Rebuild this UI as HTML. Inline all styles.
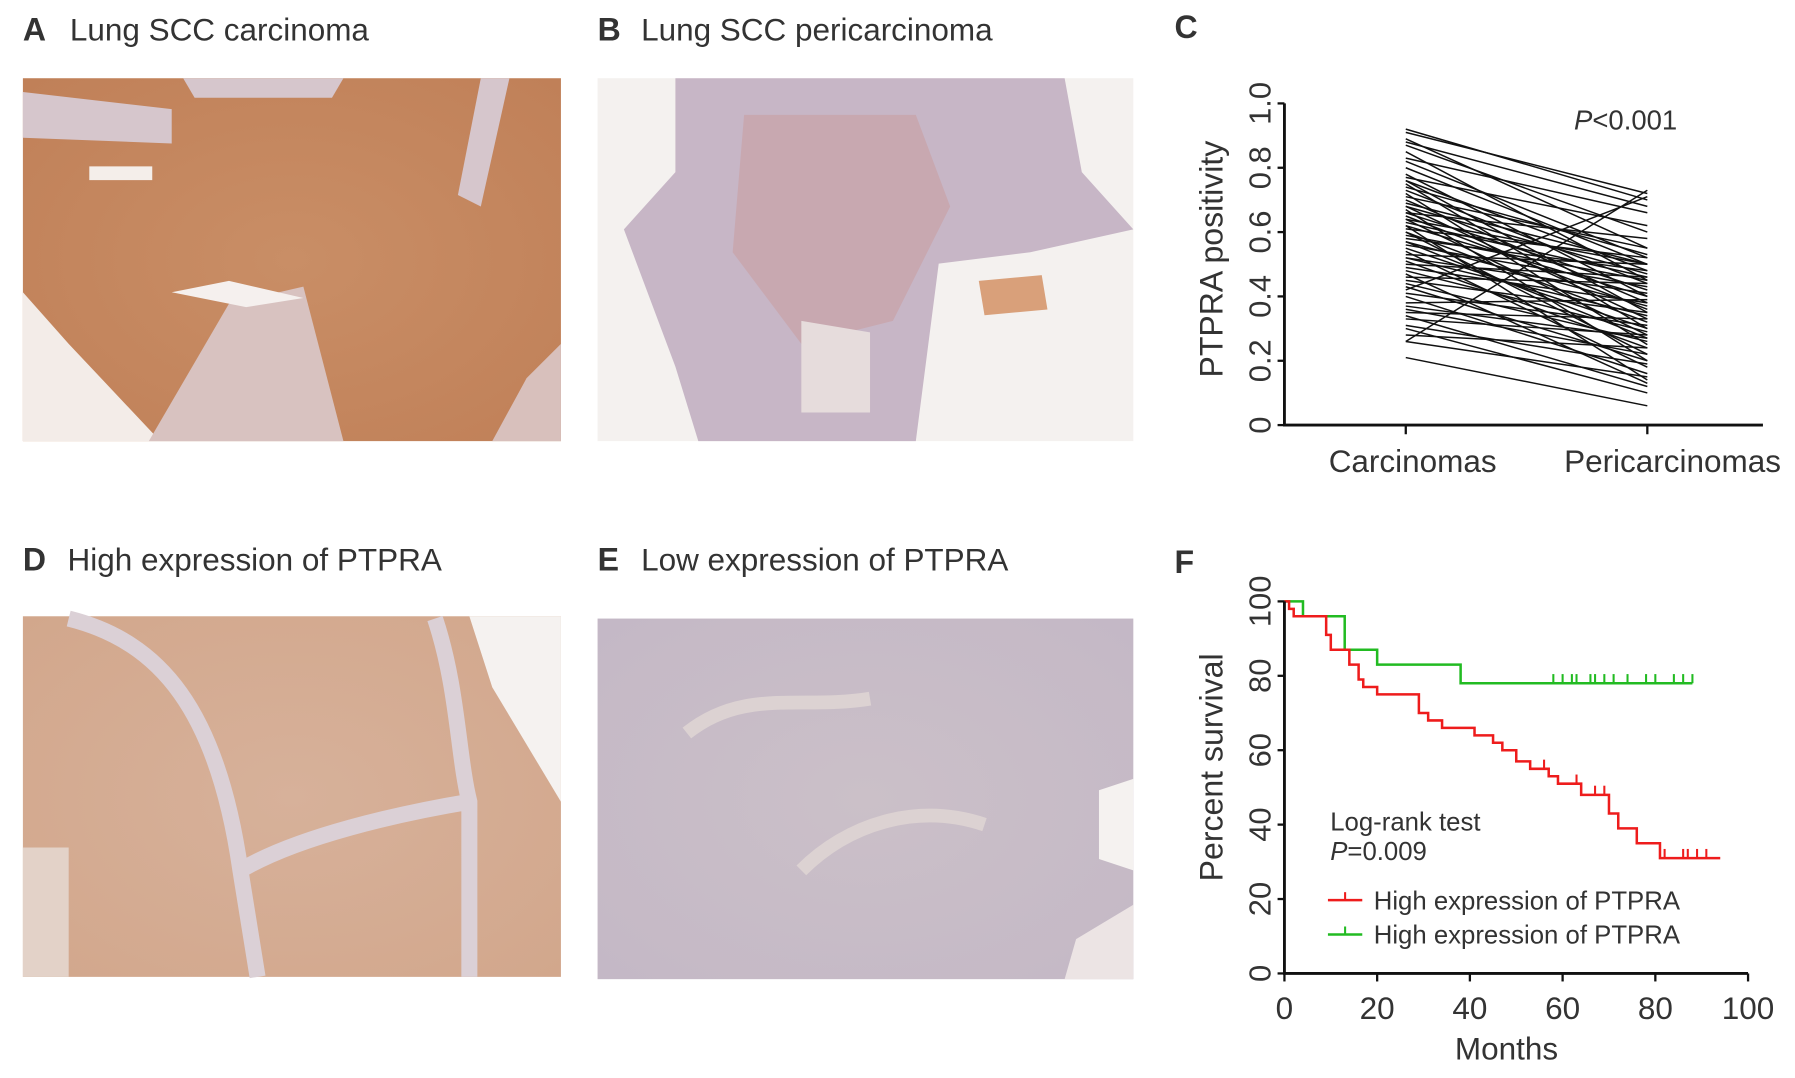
<!DOCTYPE html>
<html><head><meta charset="utf-8"><style>
html,body{margin:0;padding:0;background:#fff;}
svg{display:block;font-family:"Liberation Sans",Arial,sans-serif;}
</style></head><body>
<svg id="fig" width="1795" height="1078" viewBox="0 0 1568 941" xmlns="http://www.w3.org/2000/svg">
<defs>
<radialGradient id="gA" cx="50%" cy="50%" r="70%"><stop offset="0" stop-color="#c98e66"/><stop offset="1" stop-color="#c08058"/></radialGradient>
<radialGradient id="gD" cx="50%" cy="50%" r="70%"><stop offset="0" stop-color="#d7b19a"/><stop offset="1" stop-color="#d2a78c"/></radialGradient>
<radialGradient id="gE" cx="50%" cy="50%" r="70%"><stop offset="0" stop-color="#cbc0c8"/><stop offset="1" stop-color="#c4b8c6"/></radialGradient>
</defs>

<g><text x="20" y="35" font-size="28" font-weight="bold" fill="#333">A</text><text x="61" y="35" font-size="27.5" fill="#333">Lung SCC carcinoma</text></g>
<g><text x="522" y="35" font-size="28" font-weight="bold" fill="#333">B</text><text x="560" y="35" font-size="27.5" fill="#333">Lung SCC pericarcinoma</text></g>
<text x="1026" y="33" font-size="28" font-weight="bold" fill="#333">C</text>
<g><text x="20" y="498" font-size="28" font-weight="bold" fill="#333">D</text><text x="59" y="498" font-size="27.5" fill="#333">High expression of PTPRA</text></g>
<g><text x="522" y="498" font-size="28" font-weight="bold" fill="#333">E</text><text x="560" y="498" font-size="27.5" fill="#333">Low expression of PTPRA</text></g>
<text x="1026" y="500" font-size="28" font-weight="bold" fill="#333">F</text>

<g>
<rect x="20" y="68" width="470" height="317" fill="url(#gA)"/>
<polygon points="20,255 20,385 140,385 60,300" fill="#f3ece8"/>
<polygon points="130,385 200,265 265,250 300,385" fill="#d8c2c0"/>
<polygon points="150,255 200,245 265,260 215,268" fill="#f5f0ee"/>
<polygon points="20,80 150,95 150,125 20,120" fill="#d6c6cc"/>
<polygon points="160,68 300,68 290,85 170,85" fill="#d6c6cc"/>
<polygon points="420,68 445,68 420,180 400,170" fill="#d6c6cc"/>
<polygon points="460,330 490,300 490,385 430,385" fill="#d8c0bc"/>
<rect x="78" y="145" width="55" height="12" fill="#f4eeea"/>
</g>
<g>
<rect x="522" y="68" width="468" height="317" fill="#f4f1ef"/>
<polygon points="590,68 930,68 945,150 990,200 900,220 820,230 800,385 610,385 590,320 545,200 590,150" fill="#c7b6c6"/>
<polygon points="650,100 800,100 830,180 780,280 700,300 640,220" fill="#c8a8b0"/>
<polygon points="700,280 760,290 760,360 700,360" fill="#e6dcdc"/>
<polygon points="855,245 910,240 915,270 860,275" fill="#d9a07a"/>
</g>
<g>
<rect x="20" y="538" width="470" height="315" fill="url(#gD)"/>
<polygon points="410,538 490,538 490,700 430,600" fill="#f5f2f0"/>
<path d="M60,540 C140,560 190,620 210,760 L225,853 M210,760 C260,730 350,710 410,700 M380,540 C400,600 400,660 410,700 L410,853" stroke="#dbd0d6" stroke-width="14" fill="none"/>
<rect x="20" y="740" width="40" height="113" fill="#e3d2c8"/>
</g>
<g>
<rect x="522" y="540" width="468" height="315" fill="url(#gE)"/>
<path d="M600,640 C650,600 700,620 760,610 M700,760 C740,720 800,700 860,720" stroke="#dcd2d2" stroke-width="12" fill="none"/>
<polygon points="960,690 990,680 990,760 960,750" fill="#f5f2f0"/>
<polygon points="940,820 990,790 990,855 930,855" fill="#ece4e4"/>
</g>

<g id="chartC"></g>
<g id="chartF"></g>
</svg>
<script>
// Chart C data
const cCategories = ["Carcinomas", "Pericarcinomas"];
const cTicks = [0, 0.2, 0.4, 0.6, 0.8, 1.0];
const cTickLabels = ["0", "0.2", "0.4", "0.6", "0.8", "1.0"];
const carcValues = [0.92,0.91,0.89,0.88,0.87,0.85,0.83,0.82,0.80,0.78,0.77,0.76,0.76,0.75,0.74,0.73,0.72,0.71,0.70,0.69,0.68,0.68,0.67,0.66,0.66,0.65,0.64,0.64,0.63,0.62,0.62,0.61,0.60,0.60,0.59,0.58,0.57,0.57,0.56,0.55,0.54,0.53,0.52,0.52,0.51,0.50,0.49,0.48,0.47,0.46,0.45,0.44,0.43,0.42,0.41,0.40,0.38,0.37,0.36,0.35,0.34,0.33,0.31,0.30,0.28,0.26,0.26,0.21];
const periValues = [0.70,0.72,0.55,0.68,0.60,0.45,0.66,0.52,0.50,0.40,0.62,0.35,0.48,0.30,0.53,0.44,0.25,0.55,0.38,0.50,0.33,0.47,0.20,0.58,0.42,0.36,0.28,0.50,0.46,0.14,0.40,0.52,0.32,0.22,0.45,0.48,0.37,0.27,0.43,0.30,0.18,0.50,0.41,0.34,0.24,0.46,0.38,0.29,0.13,0.44,0.35,0.26,0.20,0.71,0.31,0.16,0.39,0.27,0.22,0.33,0.12,0.28,0.19,0.10,0.24,0.73,0.15,0.06];
// Chart F data
const fXTicks = [0, 20, 40, 60, 80, 100];
const fYTicks = [0, 20, 40, 60, 80, 100];
const redTimes = [0,1,2,9,10,14,16,17,20,29,31,34,41,45,47,50,53,57,59,64,70,72,76,81,94];
const redSurv  = [100,98,96,91,87,83,79,77,75,70,68,66,64,62,60,57,55,53,51,48,43,39,35,31,31];
const redCensor = [56,63,67,69,82,86,87,89,91];
const greenTimes = [0,4,13,20,38,88];
const greenSurv  = [100,96,87,83,78,78];
const greenCensor = [58,60,62,63,66,67,69,71,74,78,80,84,86,88];

const NS = "http://www.w3.org/2000/svg";
function mk(parent, tag, attrs, text){const e=document.createElementNS(NS,tag);for(const k in attrs)e.setAttribute(k,attrs[k]);if(text!==undefined)e.textContent=text;parent.appendChild(e);return e;}

(function(){
  const g = document.getElementById('chartC');
  const x0=1122, xEnd=1540, y0=371, y1=90;
  const yS = v => y0 - v*(y0-y1);
  const xC = i => [1228,1439][i];
  for(let i=0;i<carcValues.length;i++){
    const l = mk(g,'line',{x1:xC(0),y1:yS(carcValues[i]),x2:xC(1),y2:yS(periValues[i]),stroke:'#111','stroke-width':1.3});
    
    
  }
  const ax = mk(g,'path',{d:`M${x0},${y1} V${y0} H${xEnd}`,stroke:'#111','stroke-width':2.5,fill:'none'});
  
  
  cTicks.forEach((t,i)=>{
    mk(g,'line',{x1:x0-6,y1:yS(t),x2:x0,y2:yS(t),stroke:'#111','stroke-width':2});
    const tx = mk(g,'text',{x:0,y:0,transform:`translate(${x0-12},${yS(t)}) rotate(-90)`,'text-anchor':'middle','font-size':27,fill:'#333'},cTickLabels[i]);
    
    
  });
  cCategories.forEach((c,i)=>{
    mk(g,'line',{x1:xC(i),y1:y0,x2:xC(i),y2:y0+8,stroke:'#111','stroke-width':2});
    const tx = mk(g,'text',{x:xC(i)+(i?22:6),y:412,'text-anchor':'middle','font-size':27.5,fill:'#333'},c);
    
    
  });
  const yt = mk(g,'text',{transform:'translate(1068,226) rotate(-90)','text-anchor':'middle','font-size':28,fill:'#333'},'PTPRA  positivity');
  
  
  const p = mk(g,'text',{x:1375,y:113,'font-size':24,fill:'#333'});
  
  
  mk(p,'tspan',{'font-style':'italic'},'P');
  mk(p,'tspan',{},'<0.001');
})();

(function(){
  const g = document.getElementById('chartF');
  const x0=1122, x1=1527, y0=850, y1=525;
  const xS = v => x0 + v/100*(x1-x0);
  const yS = v => y0 - v/100*(y0-y1);
  function curve(times,surv,censor,color,name){
    let d=`M${xS(times[0])},${yS(surv[0])}`;
    for(let i=1;i<times.length;i++){ d+=` H${xS(times[i])} V${yS(surv[i])}`; }
    const p = mk(g,'path',{d:d,stroke:color,'stroke-width':2.2,fill:'none'});
    
    
    censor.forEach(t=>{
      let s=surv[0];
      for(let i=0;i<times.length;i++){ if(times[i]<=t) s=surv[i]; }
      const c = mk(g,'line',{x1:xS(t),y1:yS(s),x2:xS(t),y2:yS(s)-8,stroke:color,'stroke-width':1.8});
      
      
    });
  }
  curve(greenTimes,greenSurv,greenCensor,'#22bb22','green-survival-curve');
  curve(redTimes,redSurv,redCensor,'#ee1c1c','red-survival-curve');
  const ax = mk(g,'path',{d:`M${x0},${y1} V${y0} H${x1}`,stroke:'#111','stroke-width':2.5,fill:'none'});
  
  
  fYTicks.forEach(t=>{
    mk(g,'line',{x1:x0-6,y1:yS(t),x2:x0,y2:yS(t),stroke:'#111','stroke-width':2});
    const tx = mk(g,'text',{transform:`translate(${x0-12},${yS(t)}) rotate(-90)`,'text-anchor':'middle','font-size':27,fill:'#333'},String(t));
    
    
  });
  fXTicks.forEach(t=>{
    mk(g,'line',{x1:xS(t),y1:y0,x2:xS(t),y2:y0+7,stroke:'#111','stroke-width':2});
    const tx = mk(g,'text',{x:xS(t),y:890,'text-anchor':'middle','font-size':27.5,fill:'#333'},String(t));
    
    
  });
  const xt = mk(g,'text',{x:1316,y:925,'text-anchor':'middle','font-size':27.5,fill:'#333'},'Months');
  
  
  const yt = mk(g,'text',{transform:'translate(1068,670) rotate(-90)','text-anchor':'middle','font-size':28,fill:'#333'},'Percent survival');
  
  
  const lr = mk(g,'text',{x:1162,y:725,'font-size':22.5,fill:'#333'},'Log-rank test');
  
  
  const pv = mk(g,'text',{x:1162,y:751,'font-size':22.5,fill:'#333'});
  
  
  mk(pv,'tspan',{'font-style':'italic'},'P');
  mk(pv,'tspan',{},'=0.009');
  [['#ee1c1c',786,'legend-entry-red'],['#22bb22',816,'legend-entry-green']].forEach(([c,y,n])=>{
    const lg = mk(g,'g',{});
    
    
    mk(lg,'line',{x1:1160,y1:y,x2:1190,y2:y,stroke:c,'stroke-width':2.2});
    mk(lg,'line',{x1:1175,y1:y,x2:1175,y2:y-7,stroke:c,'stroke-width':1.8});
    mk(lg,'text',{x:1200,y:y+8,'font-size':22.5,fill:'#333'},'High expression of PTPRA');
  });
})();
</script>
</body></html>
